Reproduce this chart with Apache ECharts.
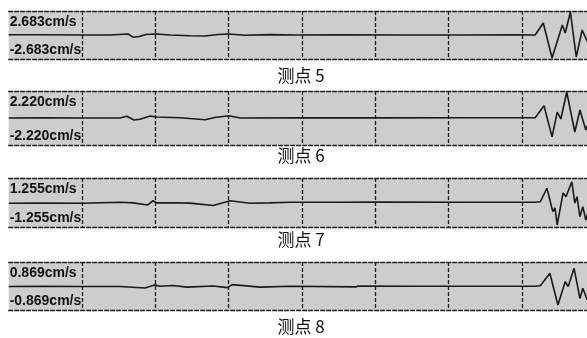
<!DOCTYPE html>
<html>
<head>
<meta charset="utf-8">
<script src="https://cdn.jsdelivr.net/npm/echarts@6/dist/echarts.min.js"></script>
<style>
html,body{margin:0;padding:0;background:#fff;}
#chart{width:587px;height:338px;}
</style>
</head>
<body>
<div id="chart"></div>
<script>
// ---- data ----
const panelNames = ['测点 5', '测点 6', '测点 7', '测点 8'];
const amplitudes = [2.683, 2.220, 1.255, 0.869];
const topLabels = ['2.683cm/s', '2.220cm/s', '1.255cm/s', '0.869cm/s'];
const bottomLabels = ['-2.683cm/s', '-2.220cm/s', '-1.255cm/s', '-0.869cm/s'];

// [time (grid divisions), velocity (cm/s)]
const wave5 = [
  [0, 0.03], [0.43, 0.03], [1.0, 0], [1.38, 0], [1.57, 0.09], [1.63, 0.11], [1.70, -0.26],
  [1.78, -0.17], [1.87, 0.06], [2.01, 0.11], [2.2, 0], [2.47, -0.09], [2.68, -0.11],
  [2.86, 0.06], [3.0, 0.11], [3.22, -0.03], [3.56, 0.04], [3.9, 0], [4.5, 0.02],
  [5.34, 0], [6.2, 0], [6.9, 0.02], [7.18, 0], [7.29, 1.34], [7.41, -2.57], [7.55, 1.12],
  [7.59, 0.22], [7.66, 2.57], [7.74, -2.46], [7.82, 0.56], [7.93, -1.45]
];
const wave6 = [
  [0, 0], [0.5, 0.01], [1.0, 0], [1.52, 0], [1.61, 0.14], [1.71, -0.16], [1.79, -0.10],
  [1.93, 0.16], [2.01, 0.08], [2.34, 0.02], [2.68, -0.14], [2.81, 0.04], [3.0, 0.18],
  [3.16, 0], [3.97, 0.02], [5.0, 0.01], [6.2, 0.02], [7.18, 0.02], [7.3, 1.01],
  [7.41, -1.55], [7.48, 0.49], [7.53, -0.08], [7.61, 2.14], [7.72, -1.15], [7.79, 0.66],
  [7.87, -0.99], [7.93, 0.0]
];
const wave7 = [
  [0, -0.04], [0.43, -0.03], [1.0, -0.04], [1.52, 0.01], [1.7, -0.02], [1.89, -0.13],
  [1.97, 0.09], [2.02, -0.02], [2.24, -0.01], [2.47, -0.03], [2.79, -0.15], [3.02, 0.09],
  [3.29, -0.04], [3.56, -0.02], [3.84, 0.01], [4.5, 0.01], [5.04, 0.02], [6.2, 0.01],
  [7.18, 0.01], [7.25, 0.04], [7.34, 0.73], [7.42, -0.47], [7.45, -0.28], [7.48, -1.15],
  [7.56, 0.49], [7.6, 0.3], [7.68, 1.06], [7.72, -0.03], [7.75, 0.3], [7.79, -0.73],
  [7.83, -0.21], [7.87, -0.9], [7.93, -0.13]
];
const wave8 = [
  [0, -0.02], [0.43, -0.01], [1.0, -0.02], [1.52, -0.02], [1.86, -0.07], [1.99, 0.04],
  [2.06, -0.01], [2.24, 0.02], [2.43, -0.04], [2.79, 0.0], [2.98, -0.06], [3.05, 0.05],
  [3.43, -0.04], [3.84, -0.01], [4.74, -0.03], [4.77, 0.0], [5.5, -0.01], [6.5, -0.01],
  [7.18, -0.01], [7.25, 0.01], [7.38, 0.46], [7.49, -0.69], [7.59, 0.16], [7.63, -0.02],
  [7.71, 0.64], [7.79, -0.45], [7.83, -0.08], [7.89, -0.51], [7.93, -0.3]
];
const waves = [wave5, wave6, wave7, wave8];

// ---- layout ----
const gridTops = [11, 91, 178, 262];
const gridHeights = [48, 54, 49, 48];
const captionTops = [67, 147, 231, 318];
const divPx = 73.333;
const gridLeft = 82 - divPx;

const dashed = { color: '#1e1e1e', width: 1.3, type: [4, 2] };
const grids = [], xAxes = [], yAxes = [], series = [], titles = [];

waves.forEach((w, i) => {
  const A = amplitudes[i];
  grids.push({
    left: gridLeft, top: gridTops[i], width: divPx * 8, height: gridHeights[i],
    outerBoundsMode: 'none', containLabel: false,
    show: true, backgroundColor: '#cdcdcd', borderWidth: 0
  });
  xAxes.push({
    gridIndex: i, type: 'value', min: 0, max: 8, interval: 1, position: 'bottom',
    axisLine: { show: true, onZero: false, lineStyle: dashed },
    axisTick: { show: false }, axisLabel: { show: false },
    splitLine: { show: true, showMinLine: false, showMaxLine: false, lineStyle: dashed }
  });
  xAxes.push({
    gridIndex: i, type: 'value', min: 0, max: 8, interval: 1, position: 'top',
    axisLine: { show: true, onZero: false, lineStyle: dashed },
    axisTick: { show: false }, axisLabel: { show: false }, splitLine: { show: false }
  });
  const labelFont = { fontFamily: 'Liberation Sans, Arial, sans-serif', fontWeight: 'bold', fontSize: 14, color: '#111' };
  yAxes.push({
    gridIndex: i, type: 'value', min: -A, max: A, interval: A, position: 'left',
    axisLine: { show: false }, axisTick: { show: false }, splitLine: { show: false },
    axisLabel: Object.assign({
      inside: true, margin: 1, verticalAlign: 'top', padding: [4, 0, 0, 0],
      formatter: v => (v > A / 2 ? topLabels[i] : '')
    }, labelFont)
  });
  yAxes.push({
    gridIndex: i, type: 'value', min: -A, max: A, interval: A, position: 'left',
    axisLine: { show: false }, axisTick: { show: false }, splitLine: { show: false },
    axisLabel: Object.assign({
      inside: true, margin: 1, verticalAlign: 'bottom', padding: [0, 0, 2, 0],
      formatter: v => (v < -A / 2 ? bottomLabels[i] : '')
    }, labelFont)
  });
  series.push({
    type: 'line', xAxisIndex: 2 * i, yAxisIndex: 2 * i, data: w,
    symbol: 'none', silent: true, animation: false,
    lineStyle: { color: '#1a1a1a', width: 1.6 }
  });
  titles.push({
    text: panelNames[i], left: 301, textAlign: 'center', top: captionTops[i], padding: 0,
    textStyle: { fontFamily: 'Noto Sans CJK SC', fontSize: 17, fontWeight: 'normal', color: '#111' }
  });
});

const chart = echarts.init(document.getElementById('chart'), null, { renderer: 'canvas' });
chart.setOption({
  animation: false,
  backgroundColor: '#ffffff',
  title: titles,
  grid: grids,
  xAxis: xAxes,
  yAxis: yAxes,
  series: series
});
</script>
</body>
</html>
